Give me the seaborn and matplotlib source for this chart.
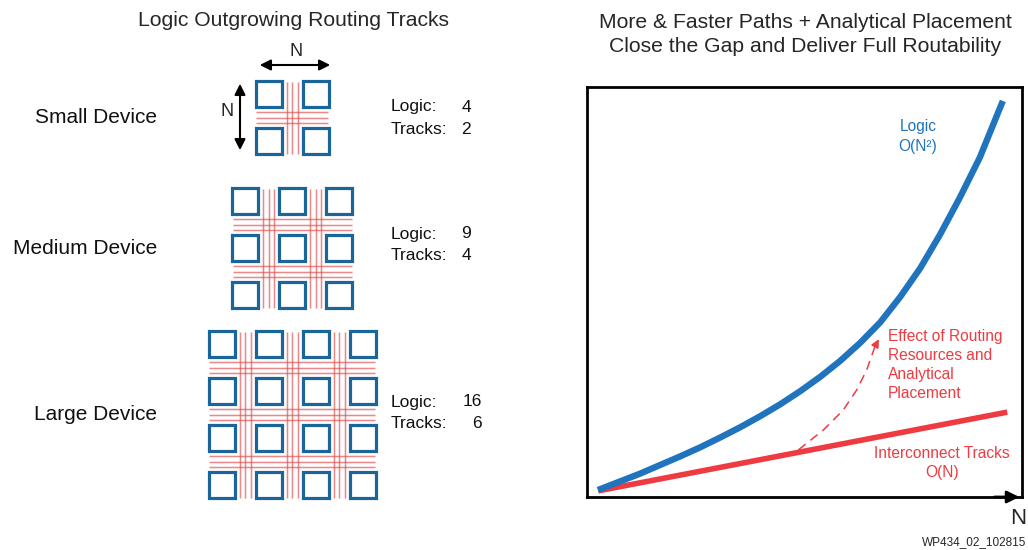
import numpy as np
import pandas as pd
import matplotlib
matplotlib.use('Agg')
import matplotlib.pyplot as plt
from matplotlib.patches import Rectangle
import seaborn as sns

# left panel data
devices = ['Small Device', 'Medium Device', 'Large Device']
grid_sizes = [2, 3, 4]
logic_counts = [4, 9, 16]
track_counts = [2, 4, 6]

# right panel curves (N normalised 0..1)
n_logic = [0.025, 0.076, 0.122, 0.168, 0.214, 0.260, 0.306, 0.352, 0.398, 0.444, 0.490,
           0.536, 0.582, 0.628, 0.674, 0.720, 0.766, 0.811, 0.857, 0.903, 0.949, 0.956]
logic_vals = [0.017, 0.038, 0.057, 0.078, 0.099, 0.121, 0.145, 0.170, 0.197, 0.226, 0.258,
              0.293, 0.332, 0.376, 0.426, 0.488, 0.558, 0.639, 0.730, 0.828, 0.948, 0.966]
n_tracks = [0.026, 0.966]
track_vals = [0.015, 0.207]
n_effect = [0.486, 0.543, 0.589, 0.620, 0.643, 0.662, 0.674]
effect_vals = [0.115, 0.163, 0.212, 0.261, 0.310, 0.367, 0.391]

sns.set_theme(style='white')
plt.rcParams['font.family'] = ['Liberation Sans', 'DejaVu Sans']

BLUE = '#1f74bd'
RED = '#ee3b41'
BOX = '#1a6599'
TRK = '#d94a4a'

fig = plt.figure(figsize=(10.28, 5.5), dpi=100)
main = fig.add_axes([0, 0, 1, 1])
main.set_xlim(0, 1028)
main.set_ylim(550, 0)
main.axis('off')

# grid layout
cx = 292
centers_y = [117.5, 248, 414.5]
pitch = 47
blk = 26
logic_y = [107, 234, 402]
num_x = [471, 471, 482]

for dev, n, lg, tr, cy, ly, nx in zip(devices, grid_sizes, logic_counts, track_counts,
                                      centers_y, logic_y, num_x):
    pos = [(i - (n - 1) / 2) * pitch for i in range(n)]
    lo = min(pos) - 14.5 + 2
    hi = max(pos) + 14.5 - 2
    # routing tracks in the gaps
    for g in range(n - 1):
        mid = (pos[g] + pos[g + 1]) / 2
        for off in (-5.5, 0, 5.5):
            for lw, a in ((2.4, 0.10), (0.9, 0.6)):
                main.plot([cx + mid + off] * 2, [cy + lo, cy + hi], color=TRK, lw=lw, alpha=a,
                          solid_capstyle='butt')
                main.plot([cx + lo, cx + hi], [cy + mid + off] * 2, color=TRK, lw=lw, alpha=a,
                          solid_capstyle='butt')
    # logic blocks
    for px in pos:
        for py in pos:
            main.add_patch(Rectangle((cx + px - blk / 2, cy + py - blk / 2), blk, blk,
                                     facecolor='white', edgecolor=BOX, lw=2.3, zorder=3))
    main.text(157, cy, dev, ha='right', va='center', fontsize=15, color='#111111')
    main.text(391, ly, 'Logic:', ha='left', va='center', fontsize=12.5, color='#111111')
    main.text(391, ly + 22, 'Tracks:', ha='left', va='center', fontsize=12.5, color='#111111')
    main.text(nx, ly, str(lg), ha='right', va='center', fontsize=12.5, color='#111111')
    main.text(nx, ly + 22, str(tr), ha='right', va='center', fontsize=12.5, color='#111111')

# N dimension arrows on the small device
main.annotate('', xy=(333, 65), xytext=(257, 65),
              arrowprops=dict(arrowstyle='<|-|>', color='black', lw=1.5, mutation_scale=16))
main.annotate('', xy=(240, 153), xytext=(240, 81),
              arrowprops=dict(arrowstyle='<|-|>', color='black', lw=1.5, mutation_scale=16))
main.text(296, 52, 'N', ha='center', va='center', fontsize=13)
main.text(227, 112, 'N', ha='center', va='center', fontsize=13)

main.text(293, 20, 'Logic Outgrowing Routing Tracks', ha='center', va='center', fontsize=15.2)
main.text(805, 22, 'More & Faster Paths + Analytical Placement', ha='center', va='center', fontsize=15.2)
main.text(805, 47, 'Close the Gap and Deliver Full Routability', ha='center', va='center', fontsize=15.2)

# right panel
ax = fig.add_axes([587 / 1028, 53 / 550, 435 / 1028, 410 / 550])
ax.patch.set_alpha(0)
ax.set_xlim(0, 1)
ax.set_ylim(0, 1)
ax.set_xticks([])
ax.set_yticks([])
for s in ax.spines.values():
    s.set_color('black')
    s.set_linewidth(2)

df_logic = pd.DataFrame({'N': n_logic, 'v': logic_vals})
df_tracks = pd.DataFrame({'N': n_tracks, 'v': track_vals})
sns.lineplot(data=df_tracks, x='N', y='v', ax=ax, color=RED, lw=4, sort=False,
             solid_capstyle='butt', clip_on=False)
sns.lineplot(data=df_logic, x='N', y='v', ax=ax, color=BLUE, lw=4.6, sort=False,
             solid_capstyle='butt', solid_joinstyle='round', clip_on=False)
ax.plot(n_effect[:-1], effect_vals[:-1], color=RED, lw=1.1, dashes=(6, 4))
ax.annotate('', xy=(n_effect[-1], effect_vals[-1]), xytext=(n_effect[-2], effect_vals[-2]),
            arrowprops=dict(arrowstyle='-|>', color=RED, lw=1.1, mutation_scale=12))
ax.annotate('', xy=(1.0, 0.0), xytext=(0.93, 0.0), xycoords='axes fraction',
            arrowprops=dict(arrowstyle='-|>', color='black', lw=2, mutation_scale=18))
ax.set_xlabel('')
ax.set_ylabel('')

main.text(918, 127, 'Logic', ha='center', va='center', fontsize=11.2, color=BLUE)
main.text(918, 146, 'O(N²)', ha='center', va='center', fontsize=11.2, color=BLUE)
main.text(888, 365, 'Effect of Routing\nResources and\nAnalytical\nPlacement', ha='left',
          va='center', fontsize=11.2, color=RED, linespacing=1.32)
main.text(942, 463, 'Interconnect Tracks\nO(N)', ha='center', va='center', fontsize=11.2,
          color=RED, linespacing=1.32)
main.text(1018, 519, 'N', ha='center', va='center', fontsize=16)
main.text(1026, 542, 'WP434_02_102815', ha='right', va='center', fontsize=8.5)

fig.savefig('out.png', dpi=100)
